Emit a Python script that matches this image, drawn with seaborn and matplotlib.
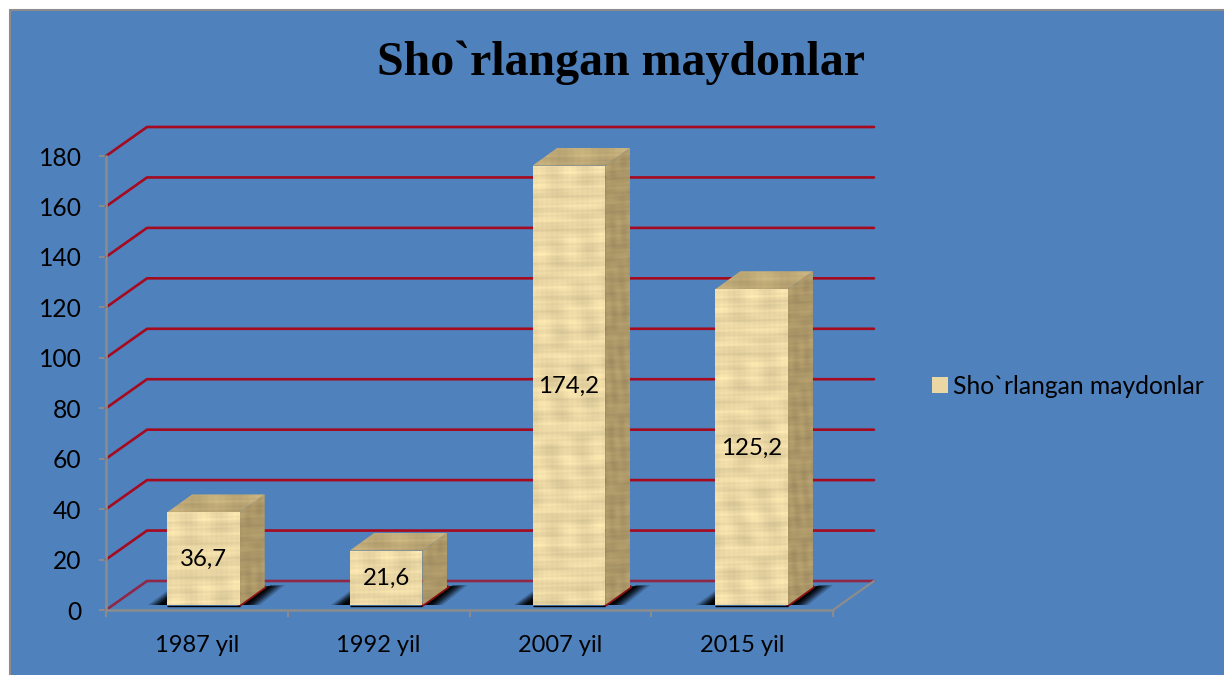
import numpy as np
import pandas as pd
import matplotlib
matplotlib.use('Agg')
import matplotlib.pyplot as plt
from matplotlib.patches import Polygon, Rectangle
import seaborn as sns

# Datos
anios = ['1987 yil', '1992 yil', '2007 yil', '2015 yil']
valores = [36.7, 21.6, 174.2, 125.2]
etiquetas = ['36,7', '21,6', '174,2', '125,2']
serie = 'Sho`rlangan maydonlar'
y_ticks = [0, 20, 40, 60, 80, 100, 120, 140, 160, 180]

W, H = 1224, 675
AZUL = '#4F81BD'
ROJO = '#A50A1E'
GRIS = '#8C8C8C'

sns.set_style('white')
plt.rcParams['font.family'] = ['Lato', 'DejaVu Sans']

df = pd.DataFrame({'anio': anios, 'valor': valores})

fig = plt.figure(figsize=(W / 100, H / 100), dpi=100, facecolor='white')
fig.add_artist(Rectangle((10 / W, -0.1), 1.2, 1.1 - 10 / H, transform=fig.transFigure,
                         facecolor=AZUL, edgecolor=GRIS, linewidth=1.5, zorder=-5))

# ejes: de x=106 a x=833, de y=156 a y=610 en pixeles
ax = fig.add_axes([106 / W, 1 - 610 / H, (833 - 106) / W, (610 - 156) / H])
ax.patch.set_alpha(0)

sns.barplot(data=df, x='anio', y='valor', ax=ax, color='#EAD7A4', width=0.40,
            saturation=1, label=serie, zorder=4, linewidth=0, edgecolor='none')

ax.set_xlim(-0.5, 3.5)
ax.set_ylim(0, 180)

# conversion pixel -> datos
px = 4 / 727
py = 180 / 454


def textura(base, alto=160, ancho=80):
    # papel: manchas suaves y vetas con senos
    yy, xx = np.mgrid[0:alto, 0:ancho]
    v = (0.026 * np.sin(yy * 0.37 + 0.6 * np.sin(xx * 0.09)) + 0.018 * np.sin(yy * 0.93 + 1.1)
         + 0.012 * np.sin(yy * 1.71 + xx * 0.05)
         + 0.018 * np.sin(xx * 0.19 + 0.8 * np.sin(yy * 0.07)) + 0.008 * np.sin(xx * 1.13 + 0.4)
         + 0.035 * np.sin(xx * 0.11 + yy * 0.043) * np.sin(yy * 0.13 - xx * 0.06))
    img = np.ones((alto, ancho, 3)) * np.array(matplotlib.colors.to_rgb(base))
    return np.clip(img * (1 + v[..., None]), 0, 1)


def cara(puntos, base, z):
    xs = [p[0] for p in puntos]
    ys = [p[1] for p in puntos]
    n = max(int((max(ys) - min(ys)) / py), 4)
    im = ax.imshow(textura(base, alto=n), extent=[min(xs), max(xs), min(ys), max(ys)],
                   aspect='auto', zorder=z, interpolation='bilinear')
    clip = Polygon(puntos, transform=ax.transData)
    im.set_clip_path(clip)
    im.set_clip_box(fig.bbox)
    return im


# rejilla 3D
dx_fondo, dy_fondo = 41 * px, 29 * py
for v in y_ticks:
    ax.plot([-0.5, -0.5 + dx_fondo, 3.5 + dx_fondo], [v, v + dy_fondo, v + dy_fondo],
            color=ROJO, lw=1.9, clip_on=False, zorder=1, alpha=0.75 if v == 0 else 1)
ax.plot([3.5, 3.5 + dx_fondo], [0, dy_fondo], color=GRIS, lw=1.6, clip_on=False, zorder=1)

# barras en profundidad (cada barra se corre un poco mas a la derecha)
dx_lado, dy_lado = 25 * px, 18 * py
base = 5 * py

for i, barra in enumerate(ax.containers[0]):
    barra.set_x(barra.get_x() + (6.5 + i) * px)
    barra.set_y(base)
    barra.set_clip_on(False)
    x0 = barra.get_x()
    x1 = x0 + barra.get_width()
    top = base + barra.get_height()

    # sombra en el piso
    for k, a in zip([1.0, 0.85, 0.7, 0.55, 0.4], [0.2, 0.3, 0.4, 0.5, 0.8]):
        ax.add_patch(Polygon([(x1, base), (x1 + dx_lado, base + dy_lado),
                              (x1 + dx_lado + 20 * k * px, base + dy_lado + 2 * py),
                              (x1 + 20 * k * px, base)],
                             facecolor='black', edgecolor='none', alpha=a, zorder=2))
        ax.add_patch(Polygon([(x0 - 19 * k * px, base), (x0, base), (x0, base + 14 * k * py)],
                             facecolor='black', edgecolor='none', alpha=a, zorder=2))
    ax.plot([x1, x1 + dx_lado], [base, base + dy_lado], color='#8E0F12', lw=2.5, zorder=3, clip_on=False)
    ax.plot([x0, x1], [base - 0.3, base - 0.3], color='black', lw=1.0, zorder=3, solid_capstyle='butt')

    cara([(x0, base), (x1, base), (x1, top), (x0, top)], '#EAD7A4', 5)
    cara([(x1, base), (x1 + dx_lado, base + dy_lado), (x1 + dx_lado, top + dy_lado), (x1, top)],
         '#AC9768', 5)
    cara([(x0, top), (x1, top), (x1 + dx_lado, top + dy_lado), (x0 + dx_lado, top + dy_lado)],
         '#BDA876', 5)

for barra, texto in zip(ax.containers[0], etiquetas):
    ax.text(barra.get_x() + barra.get_width() / 2, base + barra.get_height() / 2 - 1 * py, texto,
            ha='center', va='center', fontsize=17.3, color='black', zorder=8)

ax.set_xlim(-0.5, 3.5)
ax.set_ylim(0, 180)

# ejes
sns.despine(ax=ax, top=True, right=True)
for lado in ['left', 'bottom']:
    ax.spines[lado].set_color(GRIS)
    ax.spines[lado].set_linewidth(1.8)
    ax.spines[lado].set_zorder(3)
ax.set_xlabel('')
ax.set_ylabel('')
ax.set_yticks(y_ticks)
ax.set_xticks(range(len(anios)))
ax.set_xticklabels(anios)
ax.set_xticks([-0.5, 0.5, 1.5, 2.5, 3.5], minor=True)
ax.tick_params(axis='y', length=5, width=1.4, color=GRIS, pad=12.5, labelsize=17.7, left=True, labelcolor='black')
ax.tick_params(axis='x', which='major', length=0, pad=18, labelsize=17, labelcolor='black')
ax.tick_params(axis='x', which='minor', length=5, width=1.4, color=GRIS, bottom=True)

fig.text(621 / W, 1 - 63 / H, serie, ha='center', va='center', fontsize=34.5,
         fontweight='bold', family='Liberation Serif', color='black')

ley = ax.legend(loc='center left', bbox_to_anchor=(932 / W, 1 - 386 / H), bbox_transform=fig.transFigure,
                frameon=False, fontsize=17.7, borderpad=0, borderaxespad=0, handlelength=0.65,
                handleheight=0.65, handletextpad=0.2, labelcolor='black')

fig.savefig('out.png', dpi=100)
